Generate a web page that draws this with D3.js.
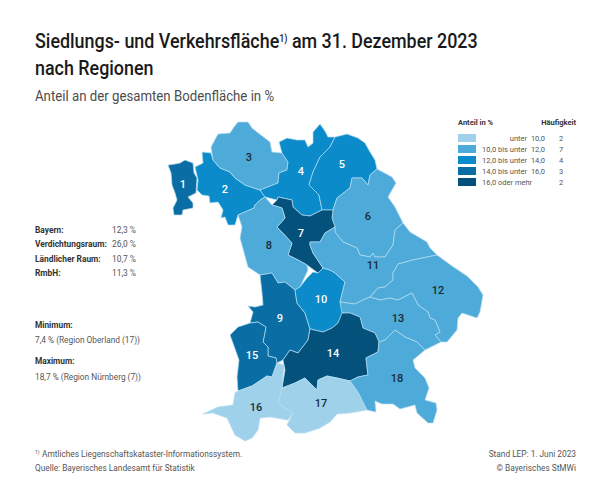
<!DOCTYPE html>
<html>
<head>
  <meta charset="utf-8">
  <script src="https://d3js.org/d3.v7.min.js"></script>
  <style>
    html, body { margin: 0; padding: 0; background: #fff; }
    text { font-family: "Roboto", sans-serif; }
  </style>
</head>
<body>
<script type="text/javascript">
"use strict";

var regionIds = [1, 2, 3, 4, 5, 6, 7, 8, 9, 10, 11, 12, 13, 14, 15, 16, 17, 18];
var regionShare = [15.1, 13.2, 11.0, 12.8, 12.6, 10.4, 18.7, 11.2, 14.6, 13.0, 10.8, 10.2, 10.6, 16.4, 14.2, 8.1, 7.4, 10.5];

// Legend
var classBreaks = [10, 12, 14, 16];
var classColors = ["#9fd2ea", "#4eaad9", "#0b8bca", "#0a6ea5", "#04527c"];
var classFrom = ["", "10,0", "12,0", "14,0", "16,0"];
var classText = ["unter", "bis unter", "bis unter", "bis unter", "oder mehr"];
var classTo = ["10,0", "12,0", "14,0", "16,0", ""];
var classCounts = [2, 7, 4, 3, 2];

// Side notes
var statNames = ["Bayern:", "Verdichtungsraum:", "Ländlicher Raum:", "RmbH:"];
var statValues = ["12,3 %", "26,0 %", "10,7 %", "11,3 %"];

// Outlines, one ring per region in map units
var regionOutlines = [
  [[168,165],[175,164],[180,163],[185,160],[193,163],[194,173],[197,178],[196,193],[188,197],[193,203],[193,208],[183,210],[182,215],[174,215],[173,208],[177,200],[175,193],[172,185],[171,173]],
  [[202,152],[211,153],[213,160],[220,168],[230,172],[235,178],[245,185],[260,190],[265,197],[260,200],[255,205],[254,208],[238,215],[235,225],[228,225],[225,217],[221,218],[223,210],[218,202],[210,203],[209,196],[202,195],[197,190],[198,180],[195,167],[203,163]],
  [[211,147],[218,134],[230,133],[234,127],[238,122],[248,122],[252,128],[257,132],[270,142],[272,152],[282,153],[288,162],[287,170],[279,173],[278,183],[260,190],[245,185],[235,178],[230,172],[220,168],[213,160]],
  [[282,153],[279,142],[287,138],[297,140],[305,140],[308,147],[313,143],[313,132],[320,124],[325,131],[328,137],[335,137],[330,147],[320,157],[313,172],[309,185],[319,195],[322,210],[310,216],[302,215],[293,207],[292,200],[278,197],[277,200],[265,197],[260,190],[278,183],[279,173],[287,170],[288,162]],
  [[335,137],[347,134],[358,138],[365,143],[370,152],[375,160],[377,169],[370,175],[368,185],[362,178],[352,178],[350,188],[337,198],[333,210],[322,210],[319,195],[309,185],[313,172],[320,157],[330,147]],
  [[377,169],[392,177],[396,183],[388,197],[395,207],[403,223],[395,230],[393,245],[385,257],[375,257],[373,253],[370,257],[360,255],[357,248],[343,242],[335,232],[335,227],[332,218],[333,210],[337,198],[350,188],[352,178],[362,178],[368,185],[370,175]],
  [[272,205],[277,200],[278,197],[292,200],[293,207],[302,215],[310,216],[322,210],[333,210],[332,218],[335,227],[325,233],[320,242],[310,242],[310,245],[313,253],[323,268],[318,273],[307,265],[298,260],[288,255],[292,243],[277,227],[285,218],[282,208]],
  [[254,208],[255,205],[260,200],[265,197],[272,205],[282,208],[285,218],[277,227],[292,243],[288,255],[298,260],[307,265],[308,270],[300,287],[295,290],[285,282],[278,283],[272,273],[260,275],[248,267],[240,238],[242,227],[238,215]],
  [[260,275],[272,273],[278,283],[285,282],[295,290],[297,303],[305,313],[310,329],[308,340],[298,353],[290,350],[283,360],[277,363],[276,358],[268,356],[268,347],[263,342],[266,327],[258,322],[250,323],[253,312],[248,306],[255,307],[263,305],[262,293]],
  [[295,290],[300,287],[307,278],[313,272],[318,273],[323,268],[330,270],[335,273],[345,282],[343,290],[340,302],[343,312],[338,323],[332,328],[323,332],[310,329],[305,313],[297,303]],
  [[403,223],[410,232],[427,242],[430,248],[437,255],[427,257],[413,260],[398,264],[393,273],[393,280],[385,287],[378,288],[370,297],[363,300],[355,304],[340,302],[343,290],[345,282],[335,273],[330,270],[323,268],[313,253],[310,245],[310,242],[320,242],[325,233],[335,227],[335,232],[343,242],[357,248],[360,255],[370,257],[373,253],[375,257],[385,257],[393,245],[395,230]],
  [[437,255],[452,266],[467,276],[478,287],[483,295],[480,312],[477,318],[462,313],[458,318],[457,330],[447,342],[441,342],[435,335],[440,332],[435,320],[430,318],[428,312],[418,305],[412,293],[398,300],[390,298],[380,300],[370,297],[378,288],[385,287],[393,280],[393,273],[398,264],[413,260],[427,257]],
  [[370,297],[380,300],[390,298],[398,300],[412,293],[418,305],[428,312],[430,318],[435,320],[440,332],[435,335],[441,342],[425,350],[417,342],[405,337],[395,330],[385,340],[379,342],[375,333],[363,328],[360,317],[350,313],[342,313],[340,302],[355,304],[363,300]],
  [[283,360],[290,350],[298,353],[308,340],[310,329],[323,332],[332,328],[338,323],[342,313],[350,313],[360,317],[363,328],[375,333],[379,342],[378,352],[366,358],[368,375],[358,377],[350,381],[337,378],[327,376],[318,380],[317,390],[305,378],[295,383],[282,388],[285,370]],
  [[250,323],[238,327],[230,335],[239,360],[237,377],[238,391],[252,386],[267,376],[272,377],[277,363],[276,358],[268,356],[268,347],[263,342],[266,327],[258,322]],
  [[277,363],[284,365],[282,388],[278,403],[285,408],[293,413],[288,420],[270,417],[260,418],[258,430],[252,438],[245,441],[235,435],[227,418],[213,413],[203,414],[218,407],[233,405],[235,393],[238,391],[252,386],[267,376],[272,377]],
  [[282,388],[295,383],[305,378],[317,390],[318,380],[327,376],[337,378],[350,381],[358,392],[367,410],[350,413],[337,414],[330,422],[320,428],[305,433],[295,433],[287,425],[293,413],[285,408],[278,403]],
  [[379,342],[385,340],[395,330],[405,337],[417,342],[425,350],[413,360],[415,368],[425,378],[429,388],[425,400],[436,403],[437,410],[433,423],[428,423],[417,413],[415,405],[400,409],[393,404],[382,404],[375,401],[376,412],[367,410],[358,392],[350,381],[358,377],[368,375],[366,358],[378,352]]
];
// Where each number sits on the map
var labelSpots = [[183,184],[225,189],[249,157],[301,171],[342,164],[368,216],[301,233],[269,245],[280,318],[321,299],[373,265],[438,290],[398,318],[333,353],[252,355],[256,407],[321,403],[397,378]];

var width = 600,
    height = 503;

var svg = d3.select("body").append("svg")
    .attr("width", width)
    .attr("height", height);

// Header, squeezed a bit because the original face is narrower than Roboto
var title = svg.append("text")
    .attr("transform", "translate(35,48) scale(0.895,1)")
    .style("font-size", "20px").style("font-weight", 500).style("fill", "#1a1a1a");
title.append("tspan").text("Siedlungs- und Verkehrsfläche");
title.append("tspan").text("1)").attr("dy", -6).style("font-size", "10px");
title.append("tspan").text(" am 31. Dezember 2023").attr("dy", 6);

svg.append("text")
    .attr("transform", "translate(35,75) scale(0.895,1)")
    .style("font-size", "20px").style("font-weight", 500).style("fill", "#1a1a1a")
    .text("nach Regionen");

svg.append("text")
    .attr("transform", "translate(35,101) scale(0.945,1)")
    .style("font-size", "14px").style("fill", "#4d4d4d")
    .text("Anteil an der gesamten Bodenfläche in %");

// Map
var color = d3.scaleThreshold().domain(classBreaks).range(classColors);
var path = d3.geoPath(d3.geoIdentity());

svg.append("g").selectAll("path")
    .data(regionOutlines)
    .join("path")
    .attr("d", function(d) {
        return path({ type: "Polygon", coordinates: [d.concat([d[0]])] });
    })
    .style("fill", function(d, i) { return color(regionShare[i]); })
    .style("stroke", "#b4dcf0")
    .style("stroke-width", 0.7)
    .style("stroke-linejoin", "round");

svg.append("g").selectAll("text")
    .data(regionIds)
    .join("text")
    .attr("x", function(d, i) { return labelSpots[i][0]; })
    .attr("y", function(d, i) { return labelSpots[i][1]; })
    .attr("dy", "0.36em")
    .style("text-anchor", "middle")
    .style("font-size", "11px")
    .style("font-weight", 500)
    .style("fill", function(d, i) { return regionShare[i] >= 12 ? "#fff" : "#1a2a33"; })
    .text(function(d) { return d; });

// Legend
var legend = svg.append("g");
var rowY = d3.scaleBand().domain(d3.range(5)).range([133, 188]);

legend.append("text").attr("x", 458).attr("y", 125)
    .style("font-size", "7.5px").style("font-weight", 700).style("fill", "#333")
    .text("Anteil in %");
legend.append("text").attr("x", 576).attr("y", 125)
    .style("font-size", "7.5px").style("font-weight", 700).style("fill", "#333")
    .style("text-anchor", "end")
    .text("Häufigkeit");

var rows = legend.selectAll("g.row")
    .data(classColors)
    .join("g")
    .attr("class", "row")
    .attr("transform", function(d, i) { return "translate(0," + rowY(i) + ")"; });

rows.append("rect")
    .attr("x", 458).attr("y", 1)
    .attr("width", 18).attr("height", 8)
    .style("fill", function(d) { return d; });

function legendCell(values, x, anchor) {
    rows.append("text")
        .attr("x", x).attr("y", 8)
        .style("font-size", "7.5px").style("fill", "#555")
        .style("text-anchor", anchor)
        .text(function(d, i) { return values[i]; });
}
legendCell(classFrom, 482, "start");
legendCell(classTo, 545, "end");
legendCell(classCounts, 561, "middle");

// "unter" hangs right of the column, the others start at it
rows.append("text")
    .attr("x", function(d, i) { return i === 0 ? 527 : 498; })
    .attr("y", 8)
    .style("font-size", "7.5px").style("fill", "#555")
    .style("text-anchor", function(d, i) { return i === 0 ? "end" : "start"; })
    .text(function(d, i) { return classText[i]; });

// Side notes
var statY = d3.scalePoint().domain(d3.range(4)).range([233, 276]);
var stats = svg.append("g");
stats.selectAll("text.name")
    .data(statNames)
    .join("text")
    .attr("class", "name")
    .attr("x", 35).attr("y", function(d, i) { return statY(i); })
    .style("font-size", "8.4px").style("font-weight", 700).style("fill", "#333")
    .text(function(d) { return d; });
stats.selectAll("text.value")
    .data(statValues)
    .join("text")
    .attr("class", "value")
    .attr("x", 136).attr("y", function(d, i) { return statY(i); })
    .style("font-size", "8.4px").style("fill", "#555").style("text-anchor", "end")
    .text(function(d) { return d; });

function note(x, y, str, bold, anchor) {
    svg.append("text").attr("x", x).attr("y", y)
        .style("font-size", "8.3px")
        .style("font-weight", bold ? 700 : 400)
        .style("fill", bold ? "#333" : "#555")
        .style("text-anchor", anchor || "start")
        .text(str);
}
note(35, 328, "Minimum:", true);
note(35, 343, "7,4 %   (Region Oberland (17))");
note(35, 364, "Maximum:", true);
note(35, 380, "18,7 %   (Region Nürnberg (7))");

// Footer
svg.append("text").attr("x", 35).attr("y", 454)
    .style("font-size", "5px").style("fill", "#555").text("1)");
note(42, 457, "Amtliches Liegenschaftskataster-Informationssystem.");
note(35, 471, "Quelle: Bayerisches Landesamt für Statistik");
note(576, 457, "Stand LEP: 1. Juni 2023", false, "end");
note(576, 471, "© Bayerisches StMWi", false, "end");
</script>
</body>
</html>
